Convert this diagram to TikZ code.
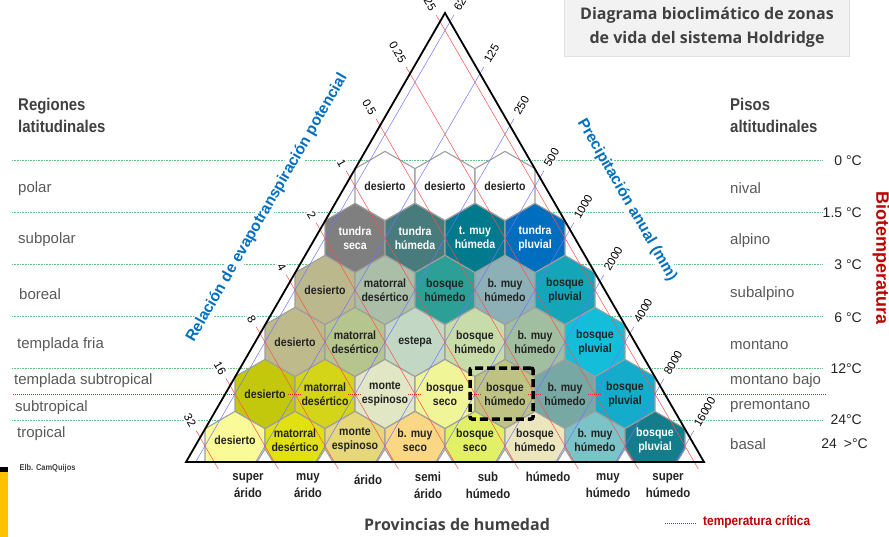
\documentclass[tikz,border=0pt]{standalone}
\usepackage{fontspec}
\setmainfont{Liberation Sans}
\newfontfamily\narrowsans[FakeStretch=0.88]{Liberation Sans}
\newfontfamily\titlesans{Open Sans}
\usetikzlibrary{calc}
\definecolor{zonegreen}{RGB}{90,200,130}
\definecolor{critred}{RGB}{225,35,35}
\definecolor{darkred}{RGB}{192,0,0}
\definecolor{axisblue}{RGB}{0,112,192}
\definecolor{inkgray}{RGB}{64,64,64}
\definecolor{textgray}{RGB}{89,89,89}
\definecolor{hexink}{RGB}{35,35,35}
\definecolor{titlefill}{RGB}{242,242,242}
\definecolor{barorange}{RGB}{255,192,0}
% hexagon fills, row by row
\definecolor{tundraseca}{RGB}{127,127,127}
\definecolor{tundrahum}{RGB}{72,124,124}
\definecolor{tundramuy}{RGB}{0,122,140}
\definecolor{tundraplu}{RGB}{0,110,190}
\definecolor{des3}{RGB}{188,184,142}
\definecolor{mat3}{RGB}{170,190,168}
\definecolor{bh3}{RGB}{44,160,150}
\definecolor{bmh3}{RGB}{140,176,182}
\definecolor{bp3}{RGB}{20,165,185}
\definecolor{des4}{RGB}{190,186,140}
\definecolor{mat4}{RGB}{182,196,142}
\definecolor{estepa}{RGB}{194,216,196}
\definecolor{bh4}{RGB}{200,220,170}
\definecolor{bmh4}{RGB}{162,190,160}
\definecolor{bp4}{RGB}{20,190,218}
\definecolor{des5}{RGB}{195,200,12}
\definecolor{mat5}{RGB}{212,212,24}
\definecolor{mesp5}{RGB}{225,230,196}
\definecolor{bs5}{RGB}{240,245,152}
\definecolor{bh5}{RGB}{190,195,132}
\definecolor{bmh5}{RGB}{120,168,164}
\definecolor{bp5}{RGB}{20,172,202}
\definecolor{des6}{RGB}{250,250,152}
\definecolor{mat6}{RGB}{225,225,18}
\definecolor{mesp6}{RGB}{230,215,122}
\definecolor{bms6}{RGB}{250,215,132}
\definecolor{bs6}{RGB}{226,240,102}
\definecolor{bh6}{RGB}{235,230,190}
\definecolor{bmh6}{RGB}{124,195,200}
\definecolor{bp6}{RGB}{20,125,140}
\tikzset{
  zoneline/.style={draw=zonegreen, line width=0.7pt, dash pattern=on 0.8pt off 0.8pt},
  critline/.style={draw=critred, line width=0.8pt, dash pattern=on 1pt off 1pt},
  evline/.style={draw=red!70, line width=0.5pt},
  ppline/.style={draw=blue!55, line width=0.5pt},
  hexline/.style={draw=black!38, line width=1.1pt, line join=round},
  hexlabel/.style={font=\narrowsans\bfseries\fontsize{12}{14}\selectfont, align=center, inner sep=0pt},
  ticklabel/.style={font=\fontsize{11.5}{12}\selectfont, fill=white, inner sep=1.5pt},
  axistitle/.style={font=\bfseries\fontsize{15.5}{17}\selectfont, text=axisblue, fill=white, inner sep=1pt},
  sidelabel/.style={font=\fontsize{15}{17}\selectfont, text=textgray, anchor=west, inner sep=0pt},
  sidehead/.style={font=\narrowsans\bfseries\fontsize{17}{22}\selectfont, text=inkgray, anchor=west, align=left, inner sep=0pt},
  templabel/.style={font=\fontsize{14}{16}\selectfont, text=hexink, anchor=east, inner sep=0pt},
  humlabel/.style={font=\narrowsans\bfseries\fontsize{13}{17}\selectfont, text=hexink, align=center, inner sep=0pt},
  selbox/.style={draw=black, line width=3.5pt, dash pattern=on 8pt off 4pt, rounded corners=2pt,
    minimum width=63pt, minimum height=51pt},
  trilines/.style={draw=black, line width=1.8pt, line join=miter},
  titlebox/.style={fill=titlefill, draw=black!12, minimum width=285pt, minimum height=58pt, align=center,
    font=\titlesans\bfseries\fontsize{16}{24}\selectfont, text=inkgray, inner sep=0pt},
}
% one row of hexagons: #1 row, #2 list fill/text colour/label
\newcommand{\hexrow}[2]{%
  \pgfmathsetmacro\hy{186+52*(#1-1)}%
  \pgfmathsetmacro\hx{445-30*(#1+1)}%
  \foreach \fc/\tc/\txt [count=\i from 0] in {#2}{%
    \draw[hexline, fill=\fc] (\hx+60*\i,\hy) +(0,-34.64) -- +(30,-17.32) -- +(30,17.32)
      -- +(0,34.64) -- +(-30,17.32) -- +(-30,-17.32) -- cycle;
    \node[hexlabel, text=\tc] (z#1\i) at (\hx+60*\i,\hy) {\txt};
  }%
}

\begin{document}
\begin{tikzpicture}[x=1pt, y=-1pt]
\useasboundingbox (0,0) rectangle (889,537);

% belts
\foreach \y in {160.4,212.4,264.4,316.4,368.4,420.4}
  \draw[zoneline] (12,\y) -- (823,\y);
\draw[critline] (13,394) -- (827,394);

\node[axistitle, rotate=60] (evtitle) at (267,208) {Relación de evapotranspiración potencial};
\node[axistitle, rotate=-60] (pptitle) at (627,200) {Precipitación anual (mm)};

% scale ticks on both sides
\foreach \k/\lab in {0/32,1/16,2/8,3/4,4/2,5/1,6/0.5,7/0.25,8/0.125}{
  \pgfmathsetmacro\xo{175+60*\k}
  \pgfmathsetmacro\ys{(856-(\xo-186)/0.5774)/2}
  \pgfmathsetmacro\xs{\xo+(\ys-394)*0.5774}
  \coordinate (ev\k) at (\xs,\ys);
  \node[ticklabel, rotate=-60, anchor=east] (evl\k) at ($(ev\k)+(-6,-10.4)$) {\lab};
}
\foreach \k/\lab in {0/16000,1/8000,2/4000,3/2000,4/1000,5/500,6/250,7/125,8/62.5}{
  \pgfmathsetmacro\xo{715-60*\k}
  \pgfmathsetmacro\ys{(856+(\xo-704)/0.5774)/2}
  \pgfmathsetmacro\xs{\xo-(\ys-394)*0.5774}
  \coordinate (pp\k) at (\xs,\ys);
  \node[ticklabel, rotate=60, anchor=west] (ppl\k) at ($(pp\k)+(6,-10.4)$) {\lab};
}

% life zones
\hexrow{1}{white/hexink/desierto, white/hexink/desierto, white/hexink/desierto}
\hexrow{2}{tundraseca/white/{tundra\\seca}, tundrahum/white/{tundra\\húmeda},
  tundramuy/white/{t. muy\\húmeda}, tundraplu/white/{tundra\\pluvial}}
\hexrow{3}{des3/hexink/desierto, mat3/hexink/{matorral\\desértico}, bh3/hexink/{bosque\\húmedo},
  bmh3/hexink/{b. muy\\húmedo}, bp3/hexink/{bosque\\pluvial}}
\hexrow{4}{des4/hexink/desierto, mat4/hexink/{matorral\\desértico}, estepa/hexink/estepa,
  bh4/hexink/{bosque\\húmedo}, bmh4/hexink/{b. muy\\húmedo}, bp4/hexink/{bosque\\pluvial}}
\hexrow{5}{des5/hexink/desierto, mat5/hexink/{matorral\\desértico}, mesp5/hexink/{monte\\espinoso},
  bs5/hexink/{bosque\\seco}, bh5/hexink/{bosque\\húmedo}, bmh5/hexink/{b. muy\\húmedo},
  bp5/hexink/{bosque\\pluvial}}
% bottom row, cut by the base
\foreach \fc/\tc/\txt [count=\i from 0] in {des6/hexink/desierto, mat6/hexink/{matorral\\desértico},
  mesp6/hexink/{monte\\espinoso}, bms6/hexink/{b. muy\\seco}, bs6/hexink/{bosque\\seco},
  bh6/hexink/{bosque\\húmedo}, bmh6/hexink/{b. muy\\húmedo}, bp6/white/{bosque\\pluvial}}{
  \pgfmathsetmacro\cx{235+60*\i}
  \pgfmathsetmacro\lb{ifthenelse(\i==0,30,22)}
  \draw[hexline, fill=\fc] (\cx,411.36) -- (\cx+30,428.68) -- (\cx+30,449) -- (\cx+22,462)
    -- (\cx-\lb,462) -- (\cx-30,449) -- (\cx-30,428.68) -- cycle;
  \node[hexlabel, text=\tc] (z6\i) at (\cx,440) {\txt};
}

\foreach \k in {0,...,8}{
  \draw[evline] ($(ev\k)+(-4,-6.9)$) -- (218.3+60*\k,469);
  \draw[ppline] ($(pp\k)+(4,-6.9)$) -- (675.7-60*\k,462);
}
\foreach \x in {295,355,...,595}
  \draw[critline] (\x-7,394) -- (\x+7,394);

\coordinate (A) at (186,462);
\coordinate (B) at (704,462);
\coordinate (C) at (445,13);
\draw[trilines] (A) -- (C) -- (B) -- cycle;

\node[selbox] (sel) at (501.5,393.5) {};

% left column
\node[sidehead] (reg) at (18,115) {Regiones\\latitudinales};
\foreach \t/\x/\y in {polar/18/189, subpolar/18/240, boreal/19/294, templada fria/17/345,
  templada subtropical/14/381, subtropical/15/408, tropical/17/434}
  \node[sidelabel] (lat\y) at (\x,\y) {\t};
\node[font=\narrowsans\bfseries\fontsize{8.5}{10}\selectfont, text=inkgray, anchor=west] (elb) at (16,468) {Elb. CamQuijos};
\fill[barorange] (0,472) rectangle (8,537);
\fill[black] (0,467) rectangle (8,472);

% right column
\node[sidehead] (pis) at (730,115) {Pisos\\altitudinales};
\foreach \t/\y in {nival/188, alpino/241, subalpino/294, montano/345, montano bajo/381,
  premontano/406, basal/444}
  \node[sidelabel] (alt\y) at (730,\y) {\t};
\foreach \t/\y in {0 °C/161, 1.5 °C/213, 3 °C/265, 6 °C/318, 12°C/369, 24°C/420}
  \node[templabel] (tmp\y) at (862,\y) {\t};
\node[templabel] (tmpmax) at (868,444) {24\enspace>°C};
\node[font=\bfseries\fontsize{18}{20}\selectfont, text=darkred, rotate=-90] (biot) at (881,258) {Biotemperatura};

\node[titlebox] (title) at (707,27) {Diagrama bioclimático de zonas\\de vida del sistema Holdridge};

% humidity provinces
\foreach \t/\yy [count=\i from 0] in {{super\\árido}/485.5, {muy\\árido}/485.5, árido/480,
  {semi\\árido}/485.5, {sub\\húmedo}/485.5, húmedo/477, {muy\\húmedo}/485.5, {super\\húmedo}/485.5}
  \node[humlabel] (hp\i) at (248+60*\i,\yy) {\t};
\node[font=\titlesans\bfseries\fontsize{16}{18}\selectfont, text=inkgray] (prov) at (457,524) {Provincias de humedad};

\draw[critline] (665,523) -- (697,523);
\node[font=\narrowsans\bfseries\fontsize{13.5}{15}\selectfont, text=darkred, anchor=west, inner sep=0pt] (crit) at (703,522) {temperatura crítica};
\end{tikzpicture}
\end{document}
